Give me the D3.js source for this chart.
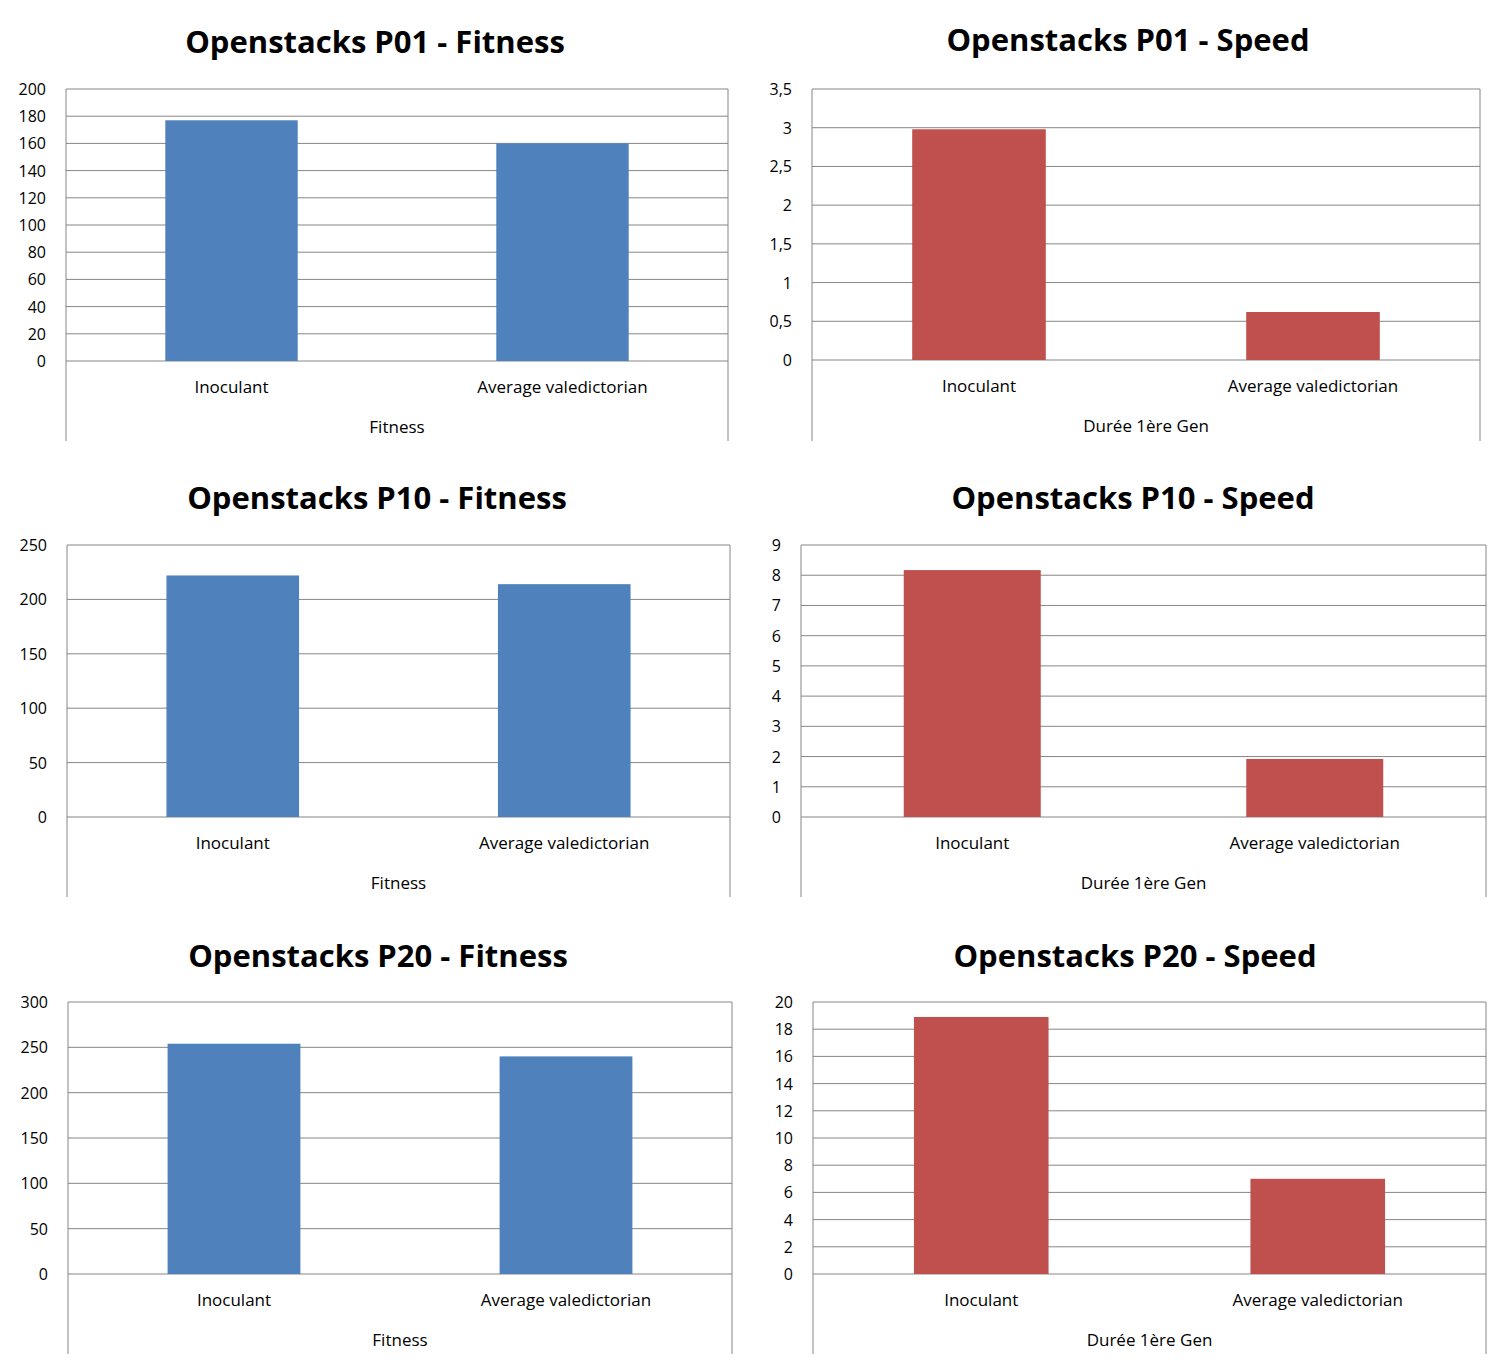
<!DOCTYPE html>
<html><head><meta charset="utf-8">
<script src="https://cdn.jsdelivr.net/npm/d3@7"></script>
<style>body{margin:0;background:#fff}text{font-family:"Open Sans","Liberation Sans",sans-serif}</style>
</head><body><svg id="c" width="1510" height="1365"></svg>
<script>
var categories = ["Inoculant", "Average valedictorian"];
var titles = ["Openstacks P01 - Fitness", "Openstacks P01 - Speed",
              "Openstacks P10 - Fitness", "Openstacks P10 - Speed",
              "Openstacks P20 - Fitness", "Openstacks P20 - Speed"];
var axisTitles = ["Fitness", "Durée 1ère Gen", "Fitness", "Durée 1ère Gen", "Fitness", "Durée 1ère Gen"];
var values = [[177, 160], [2.98, 0.62], [222, 214], [8.17, 1.92], [254, 240], [18.9, 7.0]];
var yMax = [200, 3.5, 250, 9, 300, 20];
var yStep = [20, 0.5, 50, 1, 50, 2];

// panel frames: plot left, right, top, bottom, box bottom, title centre x, title y
var frames = [
  [66, 728, 89, 361, 441, 375, 42],
  [812, 1480, 89, 360, 441, 1128, 40],
  [67, 730, 545, 817, 897, 377, 498],
  [801, 1486, 545, 817, 897, 1133, 498],
  [68, 732, 1002, 1274, 1354, 378, 956],
  [813, 1486, 1002, 1274, 1354, 1135, 956]
];
var colors = ["#4f81bd", "#c0504d"];
var svg = d3.select("#c");
var fmt = function (v) { return String(+v.toFixed(2)).replace(".", ","); };

frames.forEach(function (f, i) {
  var g = svg.append("g");
  var x = d3.scaleBand().domain(categories).range([f[0], f[1]]).paddingInner(0.6).paddingOuter(0.3);
  var y = d3.scaleLinear().domain([0, yMax[i]]).range([f[3], f[2]]);
  var ticks = d3.range(0, yMax[i] + yStep[i] / 2, yStep[i]);

  g.selectAll(".grid").data(ticks).enter().append("line")
    .attr("x1", f[0]).attr("x2", f[1])
    .attr("y1", function (d) { return y(d); }).attr("y2", function (d) { return y(d); })
    .attr("stroke", "#868686").attr("stroke-width", 1);
  g.selectAll(".tl").data(ticks).enter().append("text")
    .attr("x", f[0] - 20).attr("y", function (d) { return y(d) + 6; })
    .attr("text-anchor", "end").attr("font-size", 16).text(fmt);

  g.selectAll("rect").data(values[i]).enter().append("rect")
    .attr("x", function (d, j) { return x(categories[j]); })
    .attr("width", x.bandwidth())
    .attr("y", function (d) { return y(d); })
    .attr("height", function (d) { return y(0) - y(d); })
    .attr("fill", colors[i % 2]);

  [f[0], f[1]].forEach(function (xx) {
    g.append("line").attr("x1", xx).attr("x2", xx).attr("y1", f[2]).attr("y2", f[4])
      .attr("stroke", "#868686");
  });

  g.selectAll(".cl").data(categories).enter().append("text")
    .attr("x", function (d) { return x(d) + x.bandwidth() / 2; })
    .attr("y", f[3] + 32).attr("text-anchor", "middle").attr("font-size", 17).text(function (d) { return d; });
  g.append("text").attr("x", (f[0] + f[1]) / 2).attr("y", f[3] + 72)
    .attr("text-anchor", "middle").attr("font-size", 17).text(axisTitles[i]);
  g.append("text").attr("x", f[5]).attr("y", f[6] + 11)
    .attr("text-anchor", "middle").attr("font-size", 31).attr("font-weight", "bold").text(titles[i]);
});
</script></body></html>
